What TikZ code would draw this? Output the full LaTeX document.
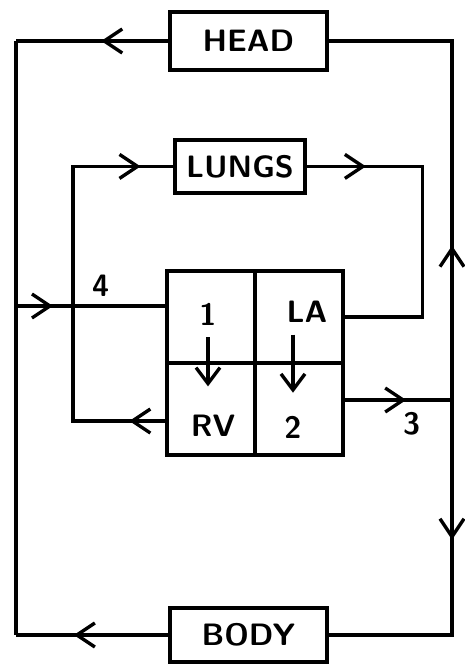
\documentclass[tikz,border=0pt]{standalone}
\usepackage{tikz}
\usetikzlibrary{arrows.meta,positioning,decorations.markings}
\tikzset{
  organ/.style={draw, rectangle, line width=2.4pt, font=\fontsize{22}{26}\selectfont\sffamily\bfseries},
  cell/.style={draw, rectangle, line width=2.4pt, minimum width=2.2cm, minimum height=2.3cm, inner sep=0pt, outer sep=0pt},
  lbl/.style={font=\fontsize{22}{26}\selectfont\sffamily\bfseries},
  arr/.style={-{Straight Barb[length=4mm, width=6mm]}},
  midarr/.style={postaction={decorate, decoration={markings,
      mark=at position #1 with {\arrow{Straight Barb[length=4.5mm, width=6mm]}}}}},
}

\begin{document}
\begin{tikzpicture}[node distance=0cm, line width=2.4pt]
\useasboundingbox (0,0) rectangle (11.6,-16.625);
% organs
\node[organ, minimum width=3.925cm, minimum height=1.45cm] (head) at (6.21,-1.025) {HEAD};
\node[organ, minimum width=3.25cm, minimum height=1.325cm] (lungs) at (6.0,-4.16) {LUNGS};
\node[organ, minimum width=3.925cm, minimum height=1.35cm] (body) at (6.21,-15.875) {BODY};
% heart
\node[cell] (ra) at (5.275,-7.925) {};
\node[cell, right=of ra] (la) {};
\node[cell, below=of ra] (rv) {};
\node[cell, right=of rv] (lv) {};
\node[lbl] (l1) at (5.2,-7.85) {1};
\node[lbl] (lla) at (7.675,-7.8) {LA};
\node[lbl] (lrv) at (5.325,-10.65) {RV};
\node[lbl] (l2) at (7.325,-10.675) {2};
\draw[arr, shorten <=4pt, shorten >=16pt] (l1.south) -- (l1.south |- lrv.north);
\draw[arr, shorten <=4pt, shorten >=12pt] (lla.south -| l2) -- (l2.north);
% corners
\coordinate (tl) at (0.4,-1.025);
\coordinate (bl) at (0.4,-15.875);
\coordinate (vc) at (0.4,-7.65);
\coordinate (tr) at (11.3,-1.025);
\coordinate (br) at (11.3,-15.875);
\coordinate (jn) at (11.3,-10.0);
\coordinate (rvout) at ([yshift=-0.3cm]rv.west);
% veins to right atrium
\draw[midarr=.44] (head.west) -- (tl);
\draw (tl) -- (bl);
\draw[midarr=.62] (body.west) -- (bl);
\draw[midarr=.245] (vc) -- node[lbl, above=2pt, pos=.56] (n4) {4} (vc -| ra.west);
% pulmonary loop
\draw[midarr=.084, midarr=.927] (rvout) -- ++(-2.35,0) |- (lungs.west);
\draw[midarr=.171] (lungs.east) -- ++(2.9,0) |- (la.east);
% aorta
\draw[midarr=.58] (jn -| lv.east) -- node[lbl, below=4pt, pos=.63] (n3) {3} (jn);
\draw[midarr=.32] (jn) -- (tr) -- (head.east);
\draw[midarr=.39] (jn) -- (br) -- (body.east);
\end{tikzpicture}
\end{document}
